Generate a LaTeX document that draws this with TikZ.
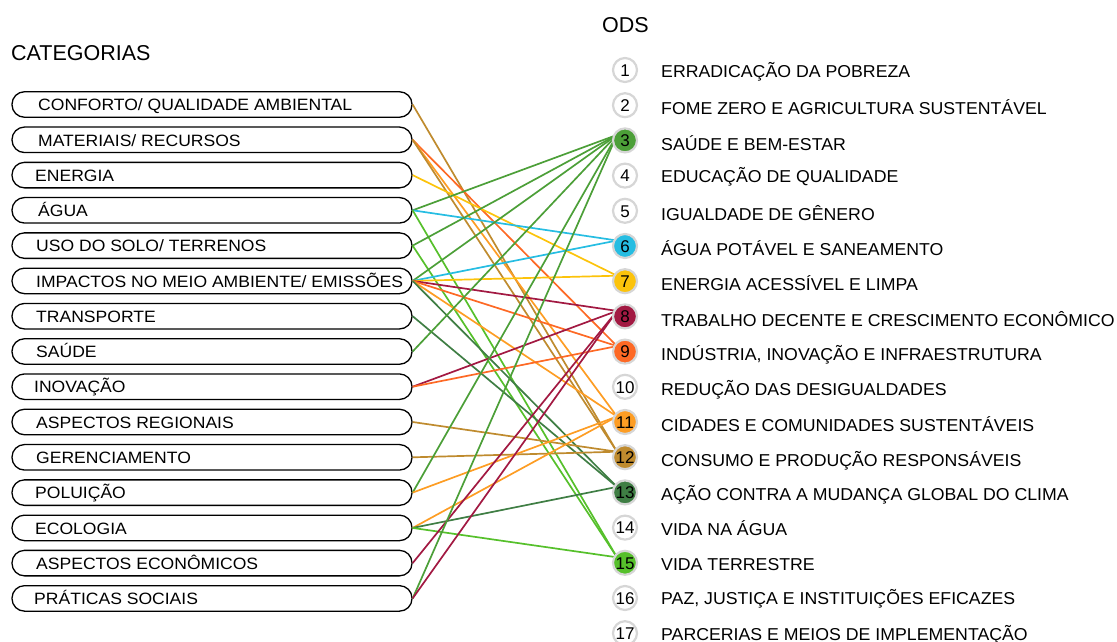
\documentclass[tikz,border=0pt]{standalone}
\usepackage{fontspec}
\setmainfont{Liberation Sans}
\newfontfamily\catfont[FakeStretch=1.07]{Liberation Sans}
\newfontfamily\odsfont[FakeStretch=1.03]{Liberation Sans}

% SDG palette
\definecolor{sdgiii}{HTML}{4C9F38}
\definecolor{sdgvi}{HTML}{26BDE2}
\definecolor{sdgvii}{HTML}{FCC30B}
\definecolor{sdgviii}{HTML}{A21942}
\definecolor{sdgix}{HTML}{FD6925}
\definecolor{sdgxi}{HTML}{FD9D24}
\definecolor{sdgxii}{HTML}{BF8B2E}
\definecolor{sdgxiii}{HTML}{3F7E44}
\definecolor{sdgxv}{HTML}{56C02B}
\definecolor{ringgray}{HTML}{D6D6D6}

\begin{document}
\begin{tikzpicture}[x=1pt,y=-1pt,
  catbox/.style={draw=black, line width=1.3pt, rounded corners=12.5pt,
    minimum width=400pt, minimum height=25.5pt, inner sep=0pt},
  cattext/.style={anchor=base west, inner sep=0pt,
    font=\catfont\fontsize{16.4}{18}\selectfont},
  odsring/.style={circle, draw=ringgray, line width=2.2pt, minimum size=24pt,
    inner sep=0pt, font=\fontsize{17}{18}\selectfont,
    text height=12.4pt, text depth=0pt},
  odstext/.style={anchor=base west, inner sep=0pt,
    font=\odsfont\fontsize{17.2}{19}\selectfont},
  heading/.style={anchor=base west, inner sep=0pt,
    font=\fontsize{21.5}{24}\selectfont},
  link/.style={draw=#1, line width=1.7pt}
]
\useasboundingbox (0,0) rectangle (1117,641);

% headings
\node[heading] (hcat) at (11,60) {CATEGORIAS};
\node[heading] (hods) at (602,32) {ODS};

% category boxes
\node[catbox] (b1)  at (212,104.5) {};
\node[catbox] (b2)  at (212,139.8) {};
\node[catbox] (b3)  at (212,175.1) {};
\node[catbox] (b4)  at (212,210.3) {};
\node[catbox] (b5)  at (212,245.6) {};
\node[catbox] (b6)  at (212,280.9) {};
\node[catbox] (b7)  at (212,316.2) {};
\node[catbox] (b8)  at (212,351.5) {};
\node[catbox] (b9)  at (212,386.7) {};
\node[catbox] (b10) at (212,422.0) {};
\node[catbox] (b11) at (212,457.3) {};
\node[catbox] (b12) at (212,492.6) {};
\node[catbox] (b13) at (212,527.9) {};
\node[catbox] (b14) at (212,563.1) {};
\node[catbox] (b15) at (212,598.4) {};

% category names
\node[cattext] (t1)  at (38,110.7) {CONFORTO/ QUALIDADE AMBIENTAL};
\node[cattext] (t2)  at (38,146.0) {MATERIAIS/ RECURSOS};
\node[cattext] (t3)  at (35,181.3) {ENERGIA};
\node[cattext] (t4)  at (38,216.5) {ÁGUA};
\node[cattext] (t5)  at (36,251.8) {USO DO SOLO/ TERRENOS};
\node[cattext] (t6)  at (36,287.1) {IMPACTOS NO MEIO AMBIENTE/ EMISSÕES};
\node[cattext] (t7)  at (36,322.4) {TRANSPORTE};
\node[cattext] (t8)  at (36,357.7) {SAÚDE};
\node[cattext] (t9)  at (34,392.9) {INOVAÇÃO};
\node[cattext] (t10) at (36,428.2) {ASPECTOS REGIONAIS};
\node[cattext] (t11) at (36,463.5) {GERENCIAMENTO};
\node[cattext] (t12) at (35,498.8) {POLUIÇÃO};
\node[cattext] (t13) at (35,534.1) {ECOLOGIA};
\node[cattext] (t14) at (36,569.8) {ASPECTOS ECONÔMICOS};
\node[cattext] (t15) at (34,604.6) {PRÁTICAS SOCIAIS};

% meeting points of the links at each goal
\foreach \j in {1,...,17}
  \coordinate (p\j) at (617,{64.5+35.2*(\j-1)});

% links category -> goal
\draw[link=sdgxii]  (b1.east) -- (p12);
\draw[link=sdgix]   (b2.east) -- (p9);
\draw[link=sdgxi]   (b2.east) -- (p11);
\draw[link=sdgxii]  (b2.east) -- (p12);
\draw[link=sdgvii]  (b3.east) -- (p7);
\draw[link=sdgiii]  (b4.east) -- (p3);
\draw[link=sdgvi]   (b4.east) -- (p6);
\draw[link=sdgxv]   (b4.east) -- (p15);
\draw[link=sdgiii]  (b5.east) -- (p3);
\draw[link=sdgxv]   (b5.east) -- (p15);
\draw[link=sdgiii]  (b6.east) -- (p3);
\draw[link=sdgvi]   (b6.east) -- (p6);
\draw[link=sdgvii]  (b6.east) -- (p7);
\draw[link=sdgviii] (b6.east) -- (p8);
\draw[link=sdgix]   (b6.east) -- (p9);
\draw[link=sdgxi]   (b6.east) -- (p11);
\draw[link=sdgxiii] (b6.east) -- (p13);
\draw[link=sdgxiii] (b7.east) -- (p13);
\draw[link=sdgiii]  (b8.east) -- (p3);
\draw[link=sdgviii] (b9.east) -- (p8);
\draw[link=sdgix]   (b9.east) -- (p9);
\draw[link=sdgxii]  (b10.east) -- (p12);
\draw[link=sdgxii]  (b11.east) -- (p12);
\draw[link=sdgiii]  (b12.east) -- (p3);
\draw[link=sdgxi]   (b12.east) -- (p11);
\draw[link=sdgxi]   (b13.east) -- (p11);
\draw[link=sdgxiii] (b13.east) -- (p13);
\draw[link=sdgxv]   (b13.east) -- (p15);
\draw[link=sdgviii] (b14.east) -- (p8);
\draw[link=sdgiii]  (b15.east) -- (p3);
\draw[link=sdgviii] (b15.east) -- (p8);

% goal markers
\foreach \j/\c in {1/white,2/white,3/sdgiii,4/white,5/white,6/sdgvi,
                   7/sdgvii,8/sdgviii,9/sdgix,10/white,11/sdgxi,12/sdgxii,
                   13/sdgxiii,14/white,15/sdgxv,16/white,17/white}
  \node[odsring, fill=\c] (o\j) at (625,{70+35.2*(\j-1)}) {\j};

% goal names
\node[odstext] (l1)  at (661,77.3)  {ERRADICAÇÃO DA POBREZA};
\node[odstext] (l2)  at (661,114.3) {FOME ZERO E AGRICULTURA SUSTENTÁVEL};
\node[odstext] (l3)  at (661,150.0) {SAÚDE E BEM-ESTAR};
\node[odstext] (l4)  at (661,182.7) {EDUCAÇÃO DE QUALIDADE};
\node[odstext] (l5)  at (661,220.0) {IGUALDADE DE GÊNERO};
\node[odstext] (l6)  at (661,255.0) {ÁGUA POTÁVEL E SANEAMENTO};
\node[odstext] (l7)  at (661,290.7) {ENERGIA ACESSÍVEL E LIMPA};
\node[odstext] (l8)  at (661,326.0) {TRABALHO DECENTE E CRESCIMENTO ECONÔMICO};
\node[odstext] (l9)  at (661,360.0) {INDÚSTRIA, INOVAÇÃO E INFRAESTRUTURA};
\node[odstext] (l10) at (661,395.0) {REDUÇÃO DAS DESIGUALDADES};
\node[odstext] (l11) at (661,431.7) {CIDADES E COMUNIDADES SUSTENTÁVEIS};
\node[odstext] (l12) at (661,466.7) {CONSUMO E PRODUÇÃO RESPONSÁVEIS};
\node[odstext] (l13) at (661,500.0) {AÇÃO CONTRA A MUDANÇA GLOBAL DO CLIMA};
\node[odstext] (l14) at (661,535.0) {VIDA NA ÁGUA};
\node[odstext] (l15) at (661,570.7) {VIDA TERRESTRE};
\node[odstext] (l16) at (661,604.0) {PAZ, JUSTIÇA E INSTITUIÇÕES EFICAZES};
\node[odstext] (l17) at (661,640.0) {PARCERIAS E MEIOS DE IMPLEMENTAÇÃO};
\end{tikzpicture}
\end{document}
